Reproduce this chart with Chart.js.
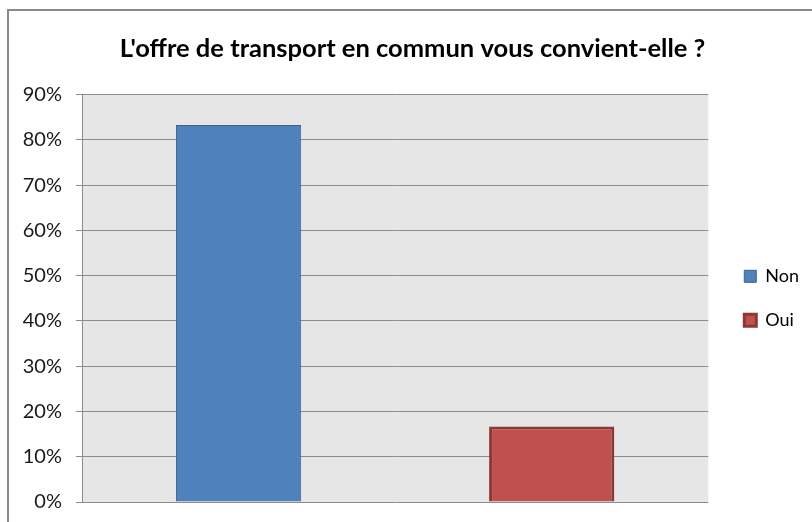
<!DOCTYPE html>
<html>
<head>
<meta charset="utf-8">
<script src="https://cdn.jsdelivr.net/npm/chart.js@4/dist/chart.umd.min.js"></script>
<style>
  html, body { margin: 0; padding: 0; background: #ffffff; }
  #wrap { position: relative; width: 812px; height: 522px; overflow: hidden; }
  #frame { position: absolute; left: 7px; top: 9px; width: 900px; height: 600px;
           border-left: 2px solid #8a8a8a; border-top: 2px solid #8a8a8a; }
  #c { position: absolute; left: 0; top: 0; }
</style>
</head>
<body>
<div id="wrap">
  <div id="frame"></div>
  <canvas id="c" width="812" height="522"></canvas>
</div>
<script>
const titleText = "L'offre de transport en commun vous convient-elle ?";
const categories = ["Non", "Oui"];
const values = [83.3, 16.7];
const fillColors = ["#4f81bd", "#c0504d"];
const borderColors = ["#3a6190", "#8c3836"];
const borderWidths = [1, 3];
const yTicks = [0, 10, 20, 30, 40, 50, 60, 70, 80, 90];

const plotBg = {
  id: 'plotBg',
  beforeDraw(chart) {
    const a = chart.chartArea, ctx = chart.ctx;
    ctx.save();
    ctx.fillStyle = '#e6e6e6';
    ctx.fillRect(a.left, a.top, a.right - a.left, a.bottom - a.top);
    ctx.restore();
  }
};

new Chart(document.getElementById('c'), {
  type: 'bar',
  data: {
    labels: categories,
    datasets: [{
      data: values,
      backgroundColor: fillColors,
      borderColor: borderColors,
      borderWidth: borderWidths,
      categoryPercentage: 1,
      barPercentage: 0.4
    }]
  },
  options: {
    responsive: false,
    animation: false,
    layout: { padding: { left: 16, right: 3, top: 0, bottom: 20 } },
    plugins: {
      title: {
        display: true,
        text: titleText,
        color: '#000000',
        font: { family: 'Lato', size: 25.5, weight: 'bold' },
        padding: { top: 33, bottom: 31 }
      },
      legend: {
        display: true,
        position: 'right',
        fullSize: false,
        labels: {
          boxWidth: 12,
          boxHeight: 12,
          padding: 26,
          color: '#000000',
          font: { family: 'Lato', size: 18 },
          generateLabels(chart) {
            return categories.map((c, i) => ({
              text: c,
              fillStyle: fillColors[i],
              strokeStyle: borderColors[i],
              lineWidth: borderWidths[i],
              hidden: false,
              index: i,
              datasetIndex: 0
            }));
          }
        }
      },
      tooltip: { enabled: false }
    },
    scales: {
      x: { display: false },
      y: {
        min: 0,
        max: 90,
        afterBuildTicks(scale) { scale.ticks = yTicks.map(v => ({ value: v })); },
        afterFit(scale) { scale.width = 66; scale.paddingTop = 0; scale.paddingBottom = 0; },
        ticks: {
          color: '#1a1a1a',
          font: { family: 'Lato', size: 20 },
          padding: 14,
          callback: v => v + '%'
        },
        grid: { color: '#8c8c8c', tickColor: '#8c8c8c', tickLength: 6, lineWidth: 1 },
        border: { display: true, color: '#8c8c8c', width: 1 }
      },
      yR: {
        position: 'right',
        display: true,
        min: 0, max: 90,
        ticks: { display: false },
        grid: { display: false, drawTicks: false },
        border: { display: false },
        afterFit(scale) { scale.width = 10; }
      }
    }
  },
  plugins: [plotBg]
});
</script>
</body>
</html>
